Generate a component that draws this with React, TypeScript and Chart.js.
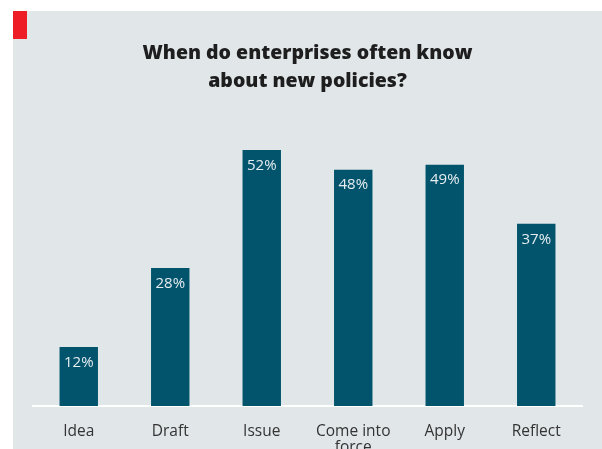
import React, { useEffect, useRef } from "react";
import { Chart, registerables } from "chart.js";

Chart.register(...registerables);

const categories: (string | string[])[] = ["Idea", "Draft", "Issue", ["Come into", "force"], "Apply", "Reflect"];
const values: number[] = [12, 28, 52, 48, 49, 37];
const valueLabels: string[] = ["12%", "28%", "52%", "48%", "49%", "37%"];
const titleLines: string[] = ["When do enterprises often know", "about new policies?"];

const barLabelPlugin = {
  id: "barLabels",
  afterDatasetsDraw(chart: any) {
    const ctx = chart.ctx;
    const meta = chart.getDatasetMeta(0);
    ctx.save();
    ctx.font = "15px 'Open Sans'";
    ctx.fillStyle = "#e6edf0";
    ctx.textAlign = "center";
    ctx.textBaseline = "middle";
    meta.data.forEach((bar: any, i: number) => {
      ctx.fillText(valueLabels[i], bar.x, bar.y + 15.5);
    });
    ctx.restore();
  },
};

export default function App() {
  const ref = useRef<HTMLCanvasElement>(null);
  useEffect(() => {
    document.body.style.margin = "0";
    document.body.style.overflow = "hidden";
    const chart = new Chart(ref.current!, {
      type: "bar",
      data: {
        labels: categories,
        datasets: [
          {
            data: values,
            backgroundColor: "#02546c",
            barPercentage: 0.42,
            categoryPercentage: 1,
          },
        ],
      },
      options: {
        animation: false,
        responsive: false,
        maintainAspectRatio: false,
        layout: { padding: { left: 20, right: 20, top: 0, bottom: 0 } },
        plugins: {
          legend: { display: false },
          tooltip: { enabled: false },
          title: {
            display: true,
            text: titleLines,
            color: "#1e1e1e",
            font: { family: "'Open Sans'", size: 19.5, weight: "800", lineHeight: 1.45 },
            padding: { top: 28, bottom: 15 },
          },
        },
        scales: {
          x: {
            grid: { display: false, drawTicks: false },
            border: { display: true, color: "#ffffff", width: 2 },
            ticks: {
              color: "#333333",
              font: { family: "'Open Sans'", size: 15.5, lineHeight: 1.05 },
              padding: 17,
              maxRotation: 0,
              autoSkip: false,
            },
            afterFit(scale: any) {
              scale.height = 43;
            },
          },
          y: {
            display: false,
            min: 0,
            max: 60,
          },
        },
      },
      plugins: [barLabelPlugin],
    });
    return () => chart.destroy();
  }, []);
  return (
    <div style={{ position: "fixed", left: 0, top: 0, width: 602, height: 449, background: "#ffffff", overflow: "hidden" }}>
      <div style={{ position: "absolute", left: 13, top: 11, width: 589, height: 438, background: "#e1e6e9" }}>
        <canvas ref={ref} width={589} height={438} style={{ display: "block" }} />
      </div>
      <div style={{ position: "absolute", left: 13, top: 11, width: 14, height: 28, background: "#ee1c25" }} />
    </div>
  );
}
